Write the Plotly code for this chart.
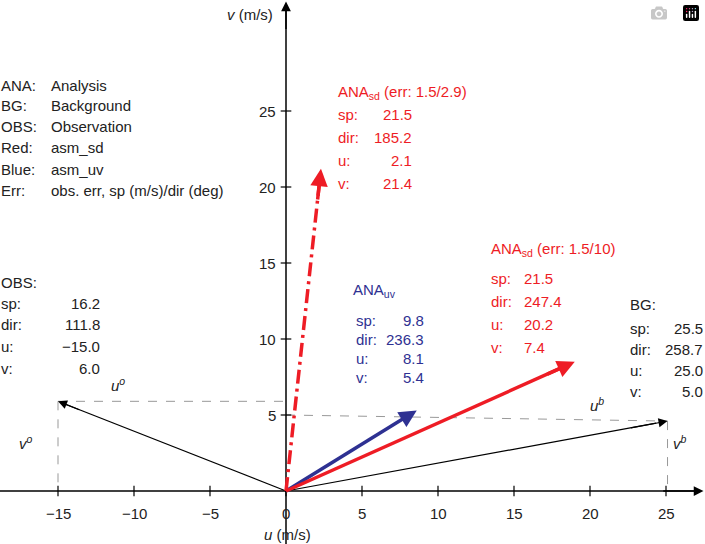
import plotly.graph_objects as go

RED = "#ee1c25"
BLUE = "#2e3192"
W, H = 705, 544

# vector tips (u, v) as drawn
obs = (-15.0, 5.9)
bg = (25.1, 4.6)
ana_sd1 = (2.3, 21.2)   # err 1.5/2.9, dash-dot
ana_sd2 = (19.0, 8.5)   # err 1.5/10
ana_uv = (8.6, 5.3)

x_ticks = [-15, -10, -5, 0, 5, 10, 15, 20, 25]
y_ticks = [5, 10, 15, 20, 25]

legend_keys = ["ANA:", "BG:", "OBS:", "Red:", "Blue:", "Err:"]
legend_vals = ["Analysis", "Background", "Observation", "asm_sd", "asm_uv", "obs. err, sp (m/s)/dir (deg)"]

obs_keys = ["sp:", "dir:", "u:", "v:"]
obs_vals = ["16.2", "111.8", "\u221215.0", "6.0"]
bg_vals = ["25.5", "258.7", "25.0", "5.0"]
sd1_vals = ["21.5", "185.2", "2.1", "21.4"]
sd2_vals = ["21.5", "247.4", "20.2", "7.4"]
uv_vals = ["9.8", "236.3", "8.1", "5.4"]

# pixel scale: 0 at (286, 491), 15.2 px per unit
X0, Y0, S = 286, 491, 15.2
xr = [(0 - X0) / S, (W - X0) / S]
yr = [(Y0 - H) / S, Y0 / S]

fig = go.Figure()

def seg(p, q, color, width, dash="solid"):
    fig.add_trace(go.Scatter(x=[p[0], q[0]], y=[p[1], q[1]], mode="lines",
                             line=dict(color=color, width=width, dash=dash),
                             hoverinfo="skip", showlegend=False))

def head(tip, color, width, size):
    fig.add_annotation(x=tip[0], y=tip[1], ax=tip[0] * 0.9, ay=tip[1] * 0.9,
                       xref="x", yref="y", axref="x", ayref="y", text="",
                       showarrow=True, arrowhead=2, arrowsize=size,
                       arrowwidth=width, arrowcolor=color)

# guides
seg((obs[0], obs[1]), (0, obs[1]), "#999", 1, "dash")
seg((obs[0], obs[1]), (obs[0], 0), "#999", 1, "dash")
seg((0, 5.0), (bg[0], bg[1]), "#999", 1, "dash")
seg((bg[0], bg[1]), (bg[0], 0), "#999", 1, "dash")

# axes
seg((xr[0], 0), (xr[1] - 0.3, 0), "black", 1.5)
seg((0, yr[0]), (0, yr[1] - 0.3), "black", 1.5)
head((xr[1] - 0.1, 0), "black", 1.5, 1.3)
fig.add_annotation(x=0, y=yr[1] - 0.1, ax=0, ay=yr[1] - 2, xref="x", yref="y",
                   axref="x", ayref="y", text="", showarrow=True, arrowhead=2,
                   arrowsize=1.3, arrowwidth=1.5, arrowcolor="black")
for t in x_ticks:
    seg((t, -0.35), (t, 0.35), "black", 1.2)
    fig.add_annotation(x=t, y=-1.45, text=("\u2212" + str(-t)) if t < 0 else str(t),
                       showarrow=False, font=dict(size=15, color="#222"))
for t in y_ticks:
    seg((-0.35, t), (0.35, t), "black", 1.2)
    fig.add_annotation(x=-0.55, y=t, text=str(t), xanchor="right", showarrow=False,
                       font=dict(size=15, color="#222"))

# vectors
for tip, c, w, d in [(obs, "black", 1.2, "solid"), (bg, "black", 1.2, "solid"),
                     (ana_uv, BLUE, 3.5, "solid"), (ana_sd2, RED, 3.5, "solid"),
                     (ana_sd1, RED, 3.5, "14px,5px,3px,5px")]:
    seg((0, 0), (tip[0] * 0.97, tip[1] * 0.97), c, w, d)
    head(tip, c, w if w > 2 else 1.2, 1.0 if w > 2 else 1.5)

def txt(px, py, s, color="#222", anchor="left", size=15, italic=False):
    fig.add_annotation(x=px / W, y=1 - py / H, xref="paper", yref="paper", text=s,
                       xanchor=anchor, yanchor="middle", showarrow=False,
                       borderpad=0, font=dict(size=size, color=color))

for i, (k, v) in enumerate(zip(legend_keys, legend_vals)):
    txt(0, 85 + 21 * i, k)
    txt(50, 85 + 21 * i, v)

txt(0, 282, "OBS:")
for i, k in enumerate(obs_keys):
    txt(0, 303 + 21.7 * i, k)
    txt(101, 303 + 21.7 * i, obs_vals[i], anchor="right")

txt(629, 304, "BG:")
for i, k in enumerate(obs_keys):
    txt(629, 328 + 21.3 * i, k)
    txt(704, 328 + 21.3 * i, bg_vals[i], anchor="right")

txt(337, 92, "ANA<sub>sd</sub> (err: 1.5/2.9)", RED)
for i, k in enumerate(obs_keys):
    txt(337, 114 + 23 * i, k, RED)
    txt(413, 114 + 23 * i, sd1_vals[i], RED, "right")

txt(490, 250, "ANA<sub>sd</sub> (err: 1.5/10)", RED)
for i, k in enumerate(obs_keys):
    txt(490, 278 + 23 * i, k, RED)
    txt(523, 278 + 23 * i, sd2_vals[i], RED)

txt(352, 290, "ANA<sub>uv</sub>", BLUE)
for i, k in enumerate(obs_keys):
    txt(355, 320 + 19.3 * i, k, BLUE)
    txt(425, 320 + 19.3 * i, uv_vals[i], BLUE, "right")

txt(226, 14, "<i>v</i> (m/s)")
txt(287, 534, "<i>u</i> (m/s)", anchor="center")
txt(110, 384, "<i>u<sup>o</sup></i>")
txt(18, 442, "<i>v<sup>o</sup></i>")
txt(589, 404, "<i>u<sup>b</sup></i>")
txt(672, 442, "<i>v<sup>b</sup></i>")

fig.update_layout(width=W, height=H, margin=dict(l=0, r=0, t=0, b=0),
                  plot_bgcolor="white", paper_bgcolor="white",
                  font=dict(family="Liberation Sans, Arial, sans-serif"),
                  xaxis=dict(range=xr, visible=False, fixedrange=True),
                  yaxis=dict(range=yr, visible=False, fixedrange=True))

fig.write_html("out.html", post_script="document.body.style.margin='0';")
